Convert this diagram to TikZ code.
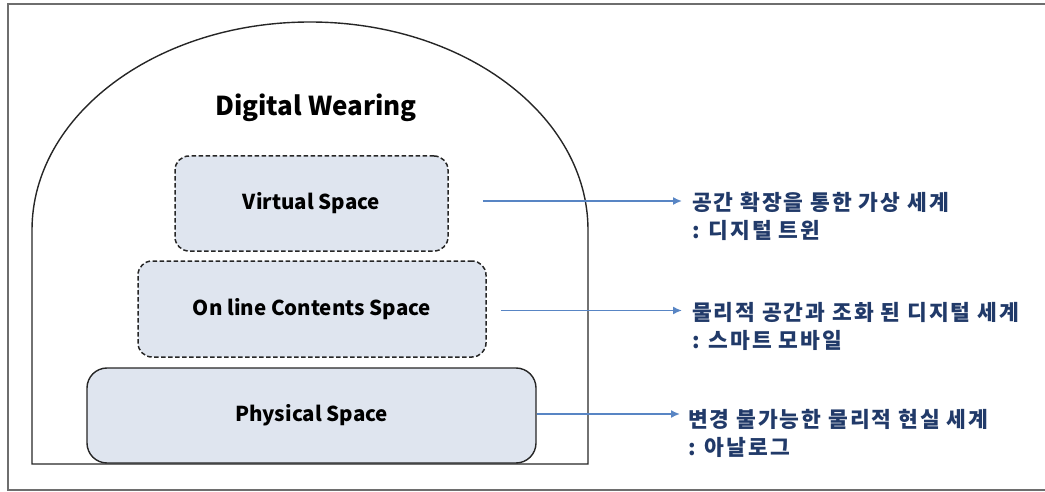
\documentclass[tikz,border=0pt]{standalone}
\usepackage{fontspec}
\setmainfont{Noto Sans CJK KR}
\newfontfamily\krfont{Noto Sans CJK KR}[LetterSpace=9]
\usetikzlibrary{positioning,arrows.meta}
\definecolor{boxfill}{RGB}{223,229,239}
\definecolor{arrblue}{RGB}{88,133,196}
\definecolor{krblue}{RGB}{33,58,105}
\definecolor{framegray}{RGB}{110,110,110}
\tikzstyle{space}=[rectangle,rounded corners=14pt,draw=black!85,line width=1.4pt,fill=boxfill,font=\fontsize{20.5}{24}\selectfont\bfseries]
\tikzstyle{dashspace}=[space,line width=1.5pt,dash pattern=on 4.5pt off 2.5pt]
\tikzstyle{note}=[inner sep=0pt,anchor=west,text=krblue,font=\krfont\fontsize{21.5}{26}\selectfont\bfseries]
\tikzstyle{arr}=[draw=arrblue,line width=1.6pt,-{Latex[length=9pt,width=8pt]},shorten >=10pt]

\begin{document}
\begin{tikzpicture}[x=1pt,y=-1pt]
\useasboundingbox (0,0) rectangle (1045,492);
\draw[framegray,line width=1.5pt] (1050,4)--(8,4)--(8,490)--(1050,490);
\draw[black!85,line width=1.4pt] (32,464)--(32,230) arc[start angle=180,end angle=0,x radius=278pt,y radius=208pt]--(588,464)--cycle;
\node[font=\fontsize{26}{30}\selectfont\bfseries] (title) at (316,108) {Digital Wearing};
\node[dashspace,minimum width=273pt,minimum height=95pt] (vs) at (311.5,203.5) {Virtual Space};
\node[dashspace,minimum width=348pt,minimum height=96pt] (ocs) at (312,309) {On line Contents Space};
\node[space,rounded corners=20pt,minimum width=449pt,minimum height=95pt] (ps) at (311.5,415.5) {Physical Space};
\node[note] (vsnote) at (692,202) {공간 확장을 통한 가상 세계};
\node[note,below=28pt of vsnote.west,anchor=west] (vsdesc) {: 디지털 트윈};
\node[note] (ocsnote) at (692,312) {물리적 공간과 조화 된 디지털 세계};
\node[note,below=28pt of ocsnote.west,anchor=west] (ocsdesc) {: 스마트 모바일};
\node[note] (psnote) at (688,419) {변경 불가능한 물리적 현실 세계};
\node[note,below=28pt of psnote.west,anchor=west] (psdesc) {: 아날로그};
\coordinate (vsout) at ([shift={(34,-2.5)}]vs.east);
\coordinate (ocsout) at ([shift={(14,1.5)}]ocs.east);
\coordinate (psout) at ([shift={(0,-1.5)}]ps.east);
\draw[arr] (vsout) -- (vsout -| vsnote.west);
\draw[arr] (ocsout) -- (ocsout -| ocsnote.west);
\draw[arr,shorten >=8pt] (psout) -- (psout -| psnote.west);
\end{tikzpicture}
\end{document}
